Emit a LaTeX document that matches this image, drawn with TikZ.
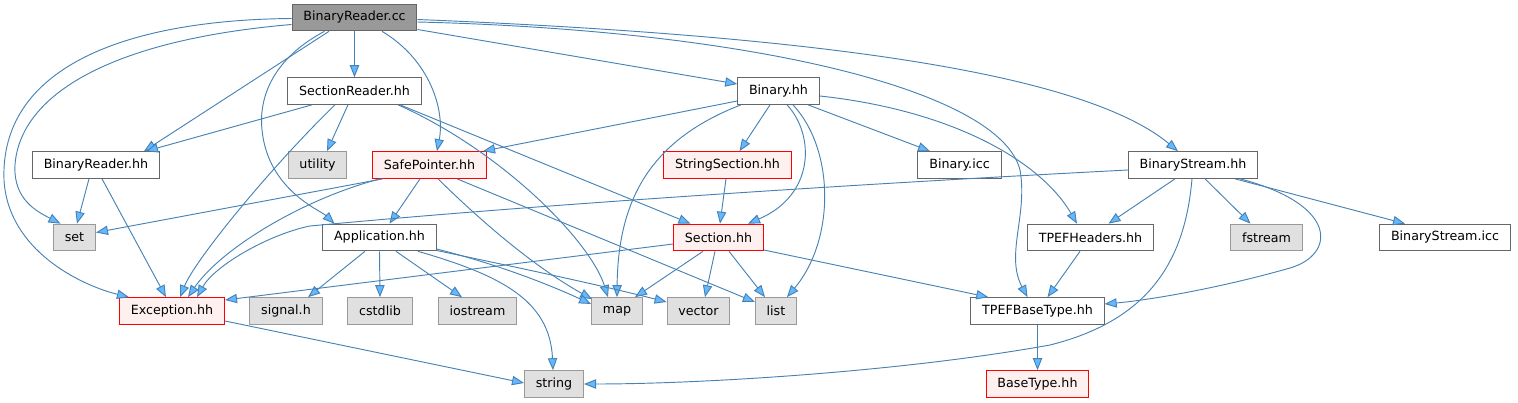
\documentclass[tikz,border=0pt]{standalone}
\usepackage{fontspec}
\setmainfont{DejaVu Sans}
\usetikzlibrary{arrows.meta,calc}
\definecolor{edgeblue}{HTML}{4682B4}
\definecolor{tipblue}{HTML}{63B8FF}
\definecolor{boxgray}{HTML}{666666}
\definecolor{sysgray}{HTML}{999999}
\definecolor{sysfill}{HTML}{E0E0E0}
\definecolor{redfill}{HTML}{FFF0F0}

\begin{document}
\begin{tikzpicture}[x=0.75pt, y=-0.75pt,
  file/.style={rectangle, draw=boxgray, fill=white, line width=0.75pt,
    minimum height=20pt, inner xsep=8.5pt, inner ysep=0pt,
    font=\fontsize{9.5}{11}\selectfont},
  sysfile/.style={file, draw=sysgray, fill=sysfill},
  redfile/.style={file, draw=red, fill=redfill},
  rootfile/.style={file, fill=sysgray},
  dep/.style={draw=edgeblue, line width=0.7pt,
    -{Triangle[length=9pt,width=7pt,fill=tipblue]}}]

  \useasboundingbox (0,0) rectangle (1518,403);

  % rank 0 and 1
  \node[rootfile] (root)      at (354.5,17.5) {BinaryReader.cc};
  \node[file]     (secreader) at (354.5,91)   {SectionReader.hh};
  \node[file]     (binhh)     at (778.5,91)   {Binary.hh};
  % rank 2
  \node[file]     (brhh)      at (96,165)     {BinaryReader.hh};
  \node[sysfile]  (utility)   at (317.5,165)  {utility};
  \node[redfile]  (safeptr)   at (429.5,165)  {SafePointer.hh};
  \node[redfile]  (strsec)    at (727.5,165)  {StringSection.hh};
  \node[file]     (binicc)    at (959.5,165)  {Binary.icc};
  \node[file]     (bstream)   at (1193,165)   {BinaryStream.hh};
  % rank 3
  \node[sysfile]  (set)       at (74.5,237.5) {set};
  \node[file]     (app)       at (379.5,237.5) {Application.hh};
  \node[redfile]  (section)   at (718.5,237.5) {Section.hh};
  \node[file]     (tpefhdr)   at (1090.5,237.5) {TPEFHeaders.hh};
  \node[sysfile]  (fstream)   at (1266.5,237.5) {fstream};
  \node[file]     (bsicc)     at (1445,237.5) {BinaryStream.icc};
  % rank 4
  \node[redfile]  (exc)       at (172,311)    {Exception.hh};
  \node[sysfile]  (signal)    at (286,311)    {signal.h};
  \node[sysfile]  (cstdlib)   at (380,311)    {cstdlib};
  \node[sysfile]  (iostream)  at (477.5,311)  {iostream};
  \node[sysfile]  (map)       at (617,311)    {map};
  \node[sysfile]  (vector)    at (698.5,311)  {vector};
  \node[sysfile]  (list)      at (776,311)    {list};
  \node[file]     (tpefbase)  at (1037.5,311) {TPEFBaseType.hh};
  % rank 5
  \node[sysfile]  (string)    at (554,384)    {string};
  \node[redfile]  (basetype)  at (1037.5,384) {BaseType.hh};

  % BinaryReader.cc
  \draw[dep] (root.south) -- (secreader.north);
  \draw[dep] ($(root.south)+(-25.5,0)$) -- ($(brhh.north)+(48,0)$);
  \draw[dep] ($(root.west)+(0,7)$) .. controls (110,40) and (20,95) .. (15,165)
    .. controls (13,200) and (38,212) .. ($(set.north)+(-14,0)$);
  \draw[dep] ($(root.west)+(0,1)$) .. controls (120,20) and (0,70) .. (4,180)
    .. controls (8,250) and (80,285) .. ($(exc.north west)+(10,0)$);
  \draw[dep] ($(root.south)+(-30,0)$) .. controls (280,55) and (258,90) .. (262,130)
    .. controls (268,190) and (320,210) .. ($(app.north)+(-45,0)$);
  \draw[dep] ($(root.south)+(27.5,0)$) .. controls (430,60) and (445,110) .. ($(safeptr.north)+(7.5,0)$);
  \draw[dep] ($(root.east)+(0,12)$) -- ($(binhh.west)+(0,-7)$);
  \draw[dep] ($(root.east)+(0,2)$) .. controls (800,35) and (1080,70) .. ($(bstream.north)+(-15,0)$);
  \draw[dep] ($(root.east)+(0,4.5)$) .. controls (750,30) and (1000,90) .. (1020,170)
    .. controls (1028,215) and (1005,255) .. ($(tpefbase.north)+(-10,0)$);

  % SectionReader.hh
  \draw[dep] ($(secreader.south)+(-42.5,0)$) -- ($(brhh.north)+(50,0)$);
  \draw[dep] ($(secreader.south)+(-6.5,0)$) -- ($(utility.north)+(9.5,0)$);
  \draw[dep] ($(secreader.south)+(-19.5,0)$) .. controls (270,168) and (195,260) .. ($(exc.north)+(8,0)$);
  \draw[dep] ($(secreader.south)+(43.5,0)$) .. controls (500,150) and (590,240) .. ($(map.north)+(-9,0)$);
  \draw[dep] ($(secreader.south)+(45.5,0)$) -- ($(section.north)+(-28,0)$);

  % SafePointer.hh
  \draw[dep] ($(safeptr.south)+(-46.5,0)$) -- ($(set.east)+(0,-5)$);
  \draw[dep] ($(safeptr.south)+(-49.5,0)$) .. controls (300,200) and (220,250) .. ($(exc.north)+(16,0)$);
  \draw[dep] ($(safeptr.south)+(-9.5,0)$) -- ($(app.north)+(10,0)$);
  \draw[dep] ($(safeptr.south)+(8.5,0)$) .. controls (490,230) and (540,270) .. ($(map.north west)+(1,2)$);
  \draw[dep] ($(safeptr.south)+(27.5,0)$) -- ($(list.west)+(0,-9)$);

  % Binary.hh
  \draw[dep] ($(binhh.west)+(0,10)$) -- ($(safeptr.north east)+(-4,0)$);
  \draw[dep] ($(binhh.south)+(-37.5,0)$) .. controls (650,140) and (618,200) .. (map.north);
  \draw[dep] ($(binhh.south)+(-8.5,0)$) -- ($(strsec.north)+(12,0)$);
  \draw[dep] ($(binhh.south)+(8.5,0)$) .. controls (815,135) and (815,195) .. ($(section.north)+(29.5,0)$);
  \draw[dep] ($(binhh.south)+(14.5,0)$) .. controls (835,150) and (835,240) .. ($(list.north)+(11,0)$);
  \draw[dep] ($(binhh.south)+(29.5,0)$) -- ($(binicc.north)+(-29.5,0)$);
  \draw[dep] ($(binhh.east)+(0,5)$) .. controls (950,110) and (1040,160) .. ($(tpefhdr.north)+(-13.5,0)$);

  % StringSection.hh
  \draw[dep] ($(strsec.south)+(-1.5,0)$) -- ($(section.north)+(1.5,0)$);

  % BinaryStream.hh
  \draw[dep] ($(bstream.west)+(0,5)$) .. controls (800,187) and (500,208) .. (310,226)
    .. controls (270,234) and (215,265) .. ($(exc.north)+(25,0)$);
  \draw[dep] ($(bstream.south)+(-18,0)$) -- ($(tpefhdr.north)+(18,0)$);
  \draw[dep] ($(bstream.south)+(-1,0)$) .. controls (1185,260) and (1150,320) .. (1050,345)
    .. controls (900,372) and (700,384) .. (string.east);
  \draw[dep] ($(bstream.south)+(47,0)$) .. controls (1340,205) and (1335,255) .. (1290,268)
    .. controls (1220,288) and (1150,300) .. ($(tpefbase.east)+(0,-7)$);
  \draw[dep] ($(bstream.south)+(12,0)$) -- ($(fstream.north)+(-16,0)$);
  \draw[dep] ($(bstream.south)+(42,0)$) -- ($(bsicc.north)+(-40,0)$);

  % BinaryReader.hh
  \draw[dep] ($(brhh.south)+(-7,0)$) -- ($(set.north)+(2.5,0)$);
  \draw[dep] ($(brhh.south)+(6,0)$) -- ($(exc.north)+(-6,0)$);

  % Application.hh
  \draw[dep] ($(app.south)+(-14.5,0)$) -- ($(signal.north)+(22,0)$);
  \draw[dep] (app.south) -- (cstdlib.north);
  \draw[dep] ($(app.south)+(16.5,0)$) -- ($(iostream.north)+(-15.5,0)$);
  \draw[dep] ($(app.east)+(0,11.5)$) .. controls (500,265) and (550,285) .. ($(map.west)+(0,-7)$);
  \draw[dep] ($(app.east)+(0,13)$) .. controls (520,268) and (600,285) .. ($(vector.west)+(0,-9)$);
  \draw[dep] ($(app.south)+(38.5,0)$) .. controls (500,275) and (550,300) .. ($(string.north)+(-1,0)$);

  % Section.hh
  \draw[dep] ($(section.west)+(0,6.5)$) -- ($(exc.east)+(0,-11)$);
  \draw[dep] ($(section.south)+(-15.5,0)$) -- ($(map.north)+(18,0)$);
  \draw[dep] ($(section.south)+(-3.5,0)$) -- ($(vector.north)+(6.5,0)$);
  \draw[dep] ($(section.south)+(10.5,0)$) -- ($(list.north)+(-11,0)$);
  \draw[dep] ($(section.east)+(0,12.5)$) -- ($(tpefbase.north west)+(18,0)$);

  % the rest
  \draw[dep] ($(tpefhdr.south)+(-10.5,0)$) -- ($(tpefbase.north)+(10,0)$);
  \draw[dep] (tpefbase.south) -- (basetype.north);
  \draw[dep] ($(exc.east)+(0,10)$) -- ($(string.west)+(0,-1)$);

\end{tikzpicture}
\end{document}
